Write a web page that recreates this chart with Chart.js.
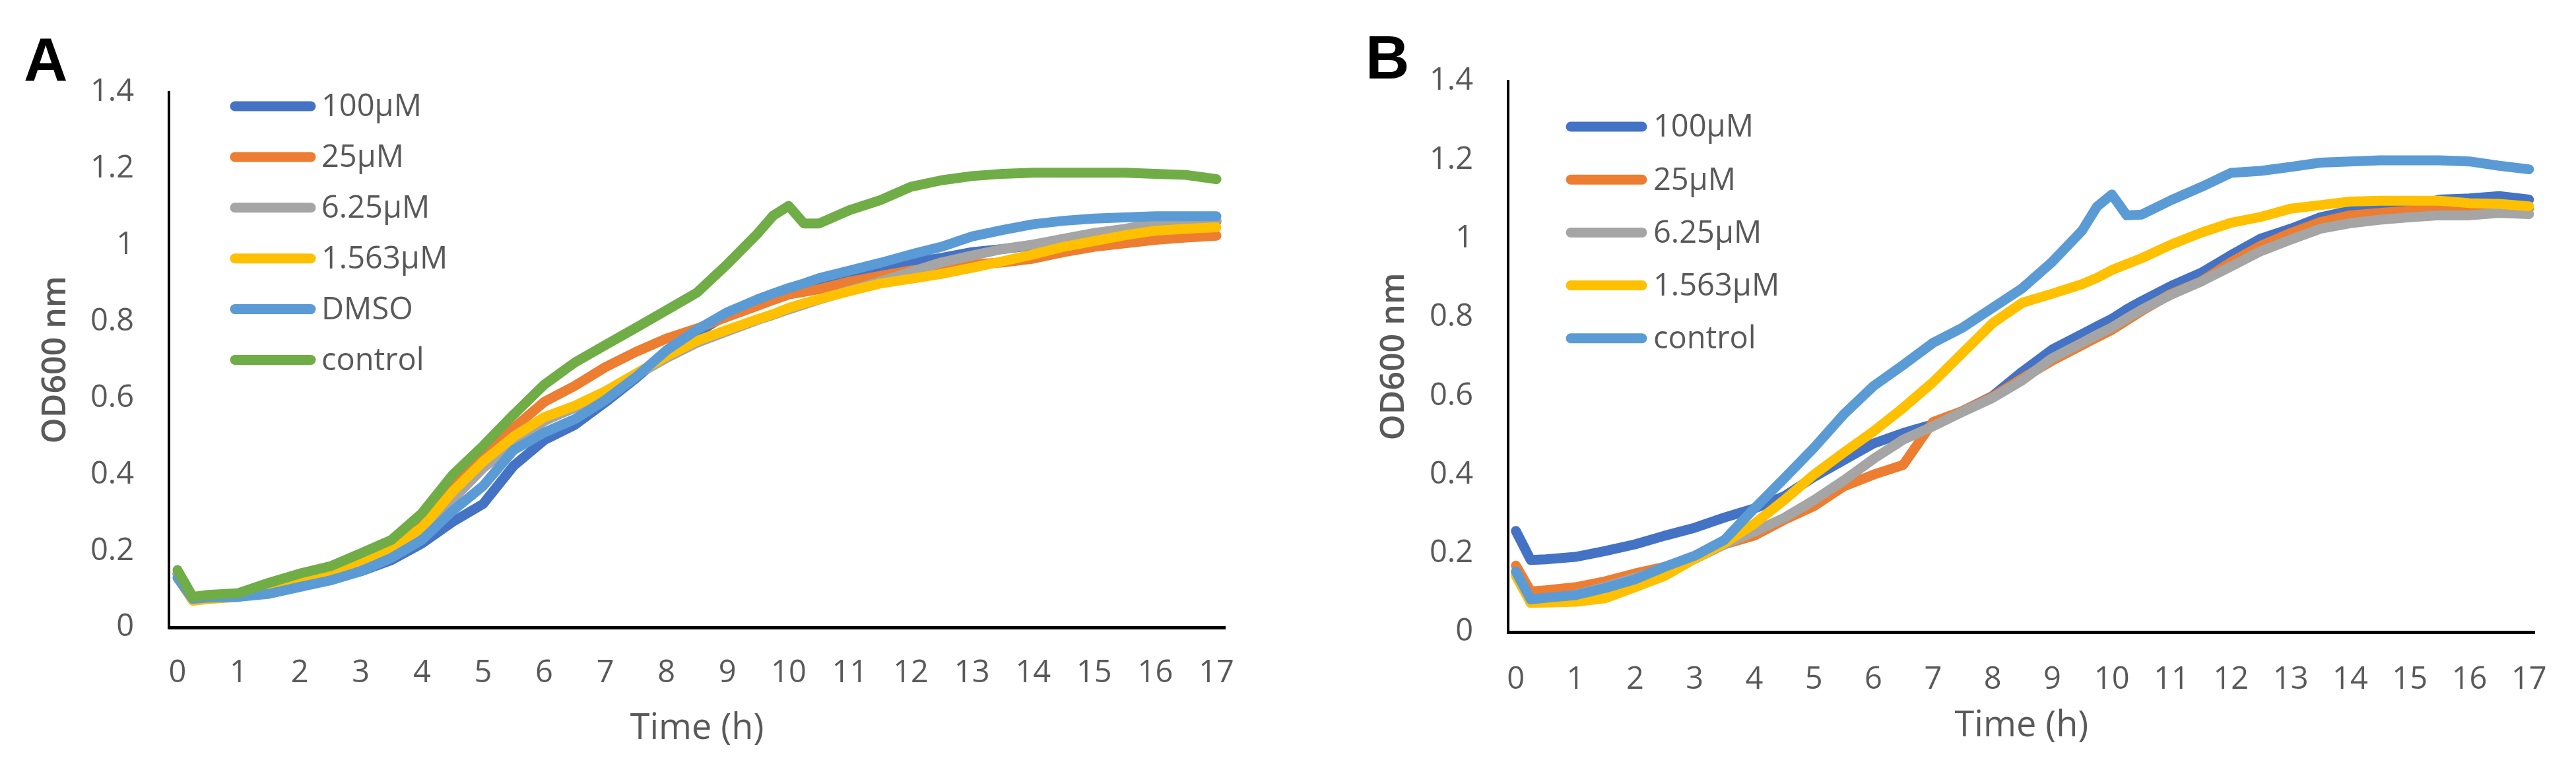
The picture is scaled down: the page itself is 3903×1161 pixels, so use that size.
<!DOCTYPE html>
<html>
<head>
<meta charset="utf-8">
<script src="https://cdn.jsdelivr.net/npm/chart.js@4.4.1/dist/chart.umd.min.js"></script>
<style>
  body { margin: 0; background: #fff; width: 3903px; height: 1161px; overflow: hidden; position: relative; }
  canvas { position: absolute; top: 0; }
</style>
</head>
<body>
<canvas id="chartA" width="1950" height="1161" style="left:0"></canvas>
<canvas id="chartB" width="1953" height="1161" style="left:1950px"></canvas>
<script>
// sampling times (h)
const hours = [0, 0.25, 0.5, 1, 1.5, 2, 2.5, 3, 3.5, 4, 4.5, 5, 5.5, 6, 6.5, 7, 7.5, 8, 8.5, 9,
  9.5, 9.75, 10, 10.25, 10.5, 11, 11.5, 12, 12.5, 13, 13.5, 14, 14.5, 15, 15.5, 16, 16.5, 17];

const xTickLabels = [0, 1, 2, 3, 4, 5, 6, 7, 8, 9, 10, 11, 12, 13, 14, 15, 16, 17];
const yTickLabels = [0, 0.2, 0.4, 0.6, 0.8, 1, 1.2, 1.4];

// panel A
const a100 = [0.14, 0.075, 0.078, 0.082, 0.095, 0.11, 0.125, 0.147, 0.176, 0.22, 0.276, 0.323, 0.423, 0.49, 0.53, 0.589, 0.652, 0.72, 0.77, 0.82,
  0.85, 0.862, 0.875, 0.885, 0.895, 0.922, 0.94, 0.955, 0.967, 0.982, 0.99, 1.0, 1.012, 1.028, 1.04, 1.055, 1.06, 1.062];
const a25 = [0.14, 0.072, 0.075, 0.085, 0.115, 0.13, 0.15, 0.176, 0.217, 0.27, 0.364, 0.446, 0.522, 0.59, 0.632, 0.681, 0.721, 0.756, 0.782, 0.813,
  0.842, 0.857, 0.871, 0.878, 0.885, 0.905, 0.92, 0.934, 0.94, 0.95, 0.955, 0.965, 0.982, 0.996, 1.005, 1.014, 1.02, 1.025];
const a625 = [0.14, 0.075, 0.077, 0.082, 0.1, 0.12, 0.14, 0.17, 0.205, 0.252, 0.335, 0.417, 0.481, 0.54, 0.575, 0.612, 0.66, 0.705, 0.745, 0.775,
  0.805, 0.818, 0.832, 0.845, 0.858, 0.882, 0.905, 0.93, 0.955, 0.973, 0.99, 1.002, 1.017, 1.032, 1.043, 1.058, 1.061, 1.065];
const a1563 = [0.13, 0.07, 0.074, 0.08, 0.105, 0.128, 0.147, 0.176, 0.208, 0.261, 0.355, 0.434, 0.499, 0.55, 0.58, 0.618, 0.664, 0.71, 0.75, 0.779,
  0.807, 0.82, 0.836, 0.848, 0.859, 0.88, 0.9, 0.912, 0.925, 0.941, 0.958, 0.976, 0.996, 1.011, 1.026, 1.038, 1.043, 1.047];
const aDmso = [0.13, 0.075, 0.078, 0.08, 0.088, 0.106, 0.123, 0.147, 0.182, 0.229, 0.305, 0.37, 0.464, 0.51, 0.545, 0.595, 0.655, 0.725, 0.779, 0.825,
  0.859, 0.874, 0.888, 0.9, 0.914, 0.934, 0.954, 0.976, 0.996, 1.023, 1.04, 1.055, 1.064, 1.07, 1.073, 1.076, 1.076, 1.076];
const aControl = [0.15, 0.08, 0.085, 0.09, 0.117, 0.141, 0.16, 0.194, 0.229, 0.299, 0.399, 0.475, 0.557, 0.635, 0.693, 0.739, 0.784, 0.83, 0.876, 0.951,
  1.032, 1.078, 1.103, 1.057, 1.057, 1.092, 1.118, 1.153, 1.17, 1.181, 1.187, 1.19, 1.19, 1.19, 1.19, 1.187, 1.184, 1.173];

// panel B
const b100 = [0.257, 0.183, 0.185, 0.191, 0.206, 0.223, 0.245, 0.265, 0.291, 0.314, 0.345, 0.394, 0.437, 0.479, 0.506, 0.528, 0.562, 0.6, 0.662, 0.718,
  0.757, 0.777, 0.796, 0.82, 0.841, 0.88, 0.913, 0.958, 1.0, 1.025, 1.054, 1.071, 1.076, 1.079, 1.099, 1.102, 1.108, 1.099];
const b25 = [0.169, 0.103, 0.106, 0.114, 0.129, 0.149, 0.166, 0.186, 0.223, 0.245, 0.285, 0.32, 0.37, 0.4, 0.425, 0.534, 0.562, 0.598, 0.645, 0.69,
  0.729, 0.749, 0.768, 0.792, 0.816, 0.86, 0.891, 0.94, 0.982, 1.014, 1.042, 1.059, 1.065, 1.071, 1.076, 1.079, 1.079, 1.076];
const b625 = [0.15, 0.08, 0.083, 0.095, 0.115, 0.138, 0.16, 0.186, 0.223, 0.255, 0.29, 0.335, 0.385, 0.44, 0.489, 0.523, 0.56, 0.595, 0.64, 0.696,
  0.735, 0.755, 0.774, 0.797, 0.819, 0.858, 0.891, 0.929, 0.968, 0.997, 1.025, 1.039, 1.048, 1.054, 1.059, 1.059, 1.065, 1.062];
const b1563 = [0.143, 0.074, 0.075, 0.077, 0.086, 0.114, 0.143, 0.186, 0.226, 0.275, 0.335, 0.4, 0.456, 0.51, 0.57, 0.635, 0.71, 0.785, 0.837, 0.86,
  0.884, 0.9, 0.92, 0.935, 0.95, 0.985, 1.015, 1.04, 1.055, 1.076, 1.085, 1.094, 1.096, 1.096, 1.096, 1.09, 1.088, 1.082];
const bControl = [0.154, 0.083, 0.087, 0.094, 0.112, 0.134, 0.166, 0.194, 0.234, 0.314, 0.39, 0.468, 0.553, 0.625, 0.679, 0.735, 0.774, 0.824, 0.874, 0.941,
  1.02, 1.081, 1.112, 1.059, 1.061, 1.098, 1.131, 1.167, 1.172, 1.182, 1.193, 1.196, 1.199, 1.199, 1.199, 1.196, 1.185, 1.176];

const BLUE = '#4472C4', ORANGE = '#ED7D31', GRAY = '#A5A5A5', GOLD = '#FFC000', LIGHTBLUE = '#5B9BD5', GREEN = '#70AD47';
const TEXT = '#595959';
const LINE_W = 15;

// legend inside the plot + panel letter
const overlayPlugin = {
  id: 'overlay',
  afterDatasetsDraw(chart, args, opts) {
    const ctx = chart.ctx;
    ctx.save();
    chart.data.datasets.forEach((ds, i) => {
      const y = opts.legendTop + i * opts.legendStep;
      ctx.strokeStyle = ds.borderColor;
      ctx.lineWidth = LINE_W;
      ctx.lineCap = 'round';
      ctx.beginPath();
      ctx.moveTo(opts.lineStart, y);
      ctx.lineTo(opts.lineEnd, y);
      ctx.stroke();
      ctx.fillStyle = TEXT;
      ctx.font = '47px "Open Sans"';
      ctx.textBaseline = 'middle';
      ctx.textAlign = 'left';
      ctx.fillText(ds.label, opts.textX, y + 2);
    });
    ctx.fillStyle = '#000';
    ctx.font = 'bold 92px "Liberation Sans"';
    ctx.textBaseline = 'alphabetic';
    ctx.fillText(opts.letter, opts.letterX, opts.letterY);
    ctx.restore();
  }
};

function makeChart(id, series, cfg) {
  const datasets = series.map((s, i) => ({
    label: s.label,
    data: hours.map((t, k) => ({ x: t, y: s.values[k] })),
    borderColor: s.color,
    borderWidth: LINE_W,
    borderCapStyle: 'round',
    borderJoinStyle: 'round',
    pointRadius: 0,
    tension: 0,
    fill: false,
    order: series.length - i   // later series on top, like the original
  }));

  return new Chart(document.getElementById(id), {
    type: 'line',
    data: { datasets },
    options: {
      responsive: false,
      animation: false,
      devicePixelRatio: 1,
      layout: { padding: { top: cfg.top, right: cfg.right, left: 0, bottom: 0 } },
      plugins: {
        legend: { display: false },
        tooltip: { enabled: false },
        overlay: cfg.overlay
      },
      scales: {
        x: {
          type: 'linear',
          min: cfg.xMin,
          max: cfg.xMax,
          afterBuildTicks: s => { s.ticks = xTickLabels.map(v => ({ value: v })); },
          afterFit: s => { s.height = cfg.xHeight; },
          grid: { display: false, drawTicks: false },
          border: { display: true, color: '#000', width: 5 },
          ticks: { color: TEXT, font: { family: 'Open Sans', size: 47 }, padding: cfg.xTickPad, maxRotation: 0, autoSkip: false,
                   callback: v => String(v) },
          title: { display: true, text: 'Time (h)', color: TEXT, font: { family: 'Open Sans', size: 54 }, padding: { top: 0, bottom: cfg.xTitlePad } }
        },
        y: {
          min: 0,
          max: 1.4,
          afterBuildTicks: s => { s.ticks = yTickLabels.map(v => ({ value: v })); },
          afterFit: s => { s.width = cfg.yWidth; },
          grid: { display: false, drawTicks: false },
          border: { display: true, color: '#000', width: 4 },
          ticks: { color: TEXT, font: { family: 'Open Sans', size: 47 }, padding: 53,
                   callback: v => String(Math.round(v * 10) / 10) },
          title: { display: true, text: 'OD600 nm', color: TEXT, font: { family: 'Open Sans', size: 50, weight: '600' }, padding: { top: cfg.yTitlePad, bottom: 0 } }
        }
      }
    },
    plugins: [overlayPlugin]
  });
}

function draw() {
  makeChart('chartA', [
    { label: '100µM', values: a100, color: BLUE },
    { label: '25µM', values: a25, color: ORANGE },
    { label: '6.25µM', values: a625, color: GRAY },
    { label: '1.563µM', values: a1563, color: GOLD },
    { label: 'DMSO', values: aDmso, color: LIGHTBLUE },
    { label: 'control', values: aControl, color: GREEN }
  ], {
    top: 140, right: 94, yWidth: 256, xHeight: 210, xMin: -0.14, xMax: 17.14,
    xTickPad: 41, xTitlePad: 24, yTitlePad: 55,
    overlay: { legendTop: 161, legendStep: 76.9, lineStart: 356, lineEnd: 471, textX: 487, letter: 'A', letterX: 36, letterY: 122 }
  });

  makeChart('chartB', [
    { label: '100µM', values: b100, color: BLUE },
    { label: '25µM', values: b25, color: ORANGE },
    { label: '6.25µM', values: b625, color: GRAY },
    { label: '1.563µM', values: b1563, color: GOLD },
    { label: 'control', values: bControl, color: LIGHTBLUE }
  ], {
    top: 123, right: 50, yWidth: 335, xHeight: 203, xMin: -0.13, xMax: 17.1,
    xTickPad: 44, xTitlePad: 28, yTitlePad: 133,
    overlay: { legendTop: 192, legendStep: 80.2, lineStart: 430, lineEnd: 538, textX: 555, letter: 'B', letterX: 119, letterY: 119 }
  });
}

Promise.all([
  document.fonts.load('47px "Open Sans"'),
  document.fonts.load('600 50px "Open Sans"'),
  document.fonts.load('bold 92px "Liberation Sans"')
]).then(draw, draw);
</script>
</body>
</html>
